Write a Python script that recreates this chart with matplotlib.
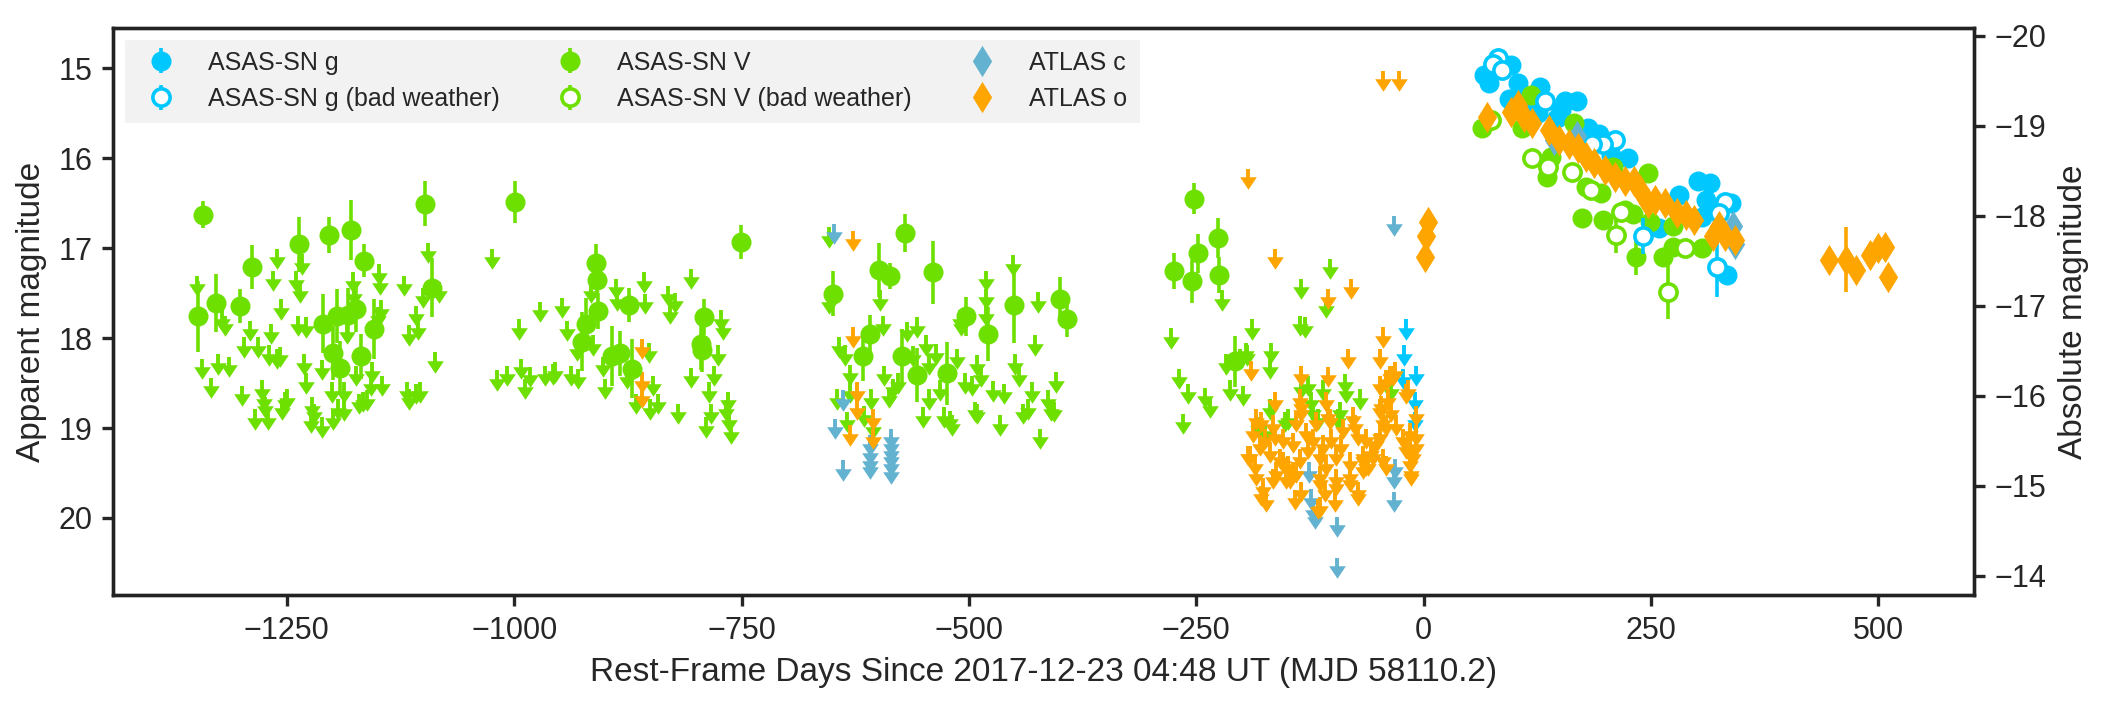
import matplotlib
matplotlib.use('Agg')
import matplotlib.pyplot as plt
import numpy as np
import seaborn as sns

sns.set_style('ticks')
plt.rcParams['font.family'] = ['Liberation Sans', 'DejaVu Sans']

DIST_MOD = 34.64

COL_G = '#00c8ff'
COL_V = '#6ee000'
COL_C = '#63b2d0'
COL_O = '#ffa500'

# ASAS-SN V detections
v_day = [-1341.8, -1347.3, -1328.3, -1301.0, -1288.0, -1236.6, -1203.8, -1179.8, -1098.0, -1164.6,
         -1090.0, -1209.7, -1195.3, -1182.7, -1173.5, -1154.5, -1168.0, -1191.1, -1198.7, -998.8,
         -910.4, -909.1, -907.9, -920.9, -925.1, -892.3, -874.2, -883.9, -870.4, -791.1,
         -795.0, -793.0, -751.1, -649.3, -598.8, -587.0, -570.1, -539.0, -609.3, -616.9,
         -573.5, -556.7, -523.8, -502.8, -479.2, -450.6, -399.7, -392.5, -274.7, -252.4,
         -248.6, -254.5, -225.9, -225.0, -207.3,
         64.5, 107.8, 117.9, 135.2, 139.8, 164.8, 174.0, 196.8, 178.5, 194.5,
         208.2, 246.9, 233.2, 262.9, 274.3, 306.2, 249.2, 221.8, 230.3, 274.3]
v_mag = [16.63, 17.76, 17.61, 17.64, 17.21, 16.96, 16.85, 16.80, 16.51, 17.14,
         17.44, 17.84, 17.76, 17.74, 17.68, 17.90, 18.20, 18.33, 18.17, 16.49,
         17.17, 17.35, 17.70, 17.84, 18.04, 18.20, 17.63, 18.17, 18.34, 17.77,
         18.07, 18.13, 16.93, 17.51, 17.24, 17.31, 16.83, 17.27, 17.95, 18.20,
         18.20, 18.41, 18.39, 17.76, 17.95, 17.63, 17.57, 17.79, 17.26, 16.45,
         17.06, 17.37, 16.89, 17.30, 18.26,
         15.67, 15.67, 15.30, 16.21, 15.99, 15.61, 16.67, 16.69, 16.32, 16.39,
         16.10, 16.17, 17.10, 17.10, 16.99, 17.00, 16.71, 16.58, 16.62, 16.76]
v_err = [0.15, 0.39, 0.32, 0.19, 0.24, 0.31, 0.20, 0.33, 0.25, 0.18,
         0.33, 0.33, 0.30, 0.30, 0.25, 0.33, 0.25, 0.30, 0.30, 0.23,
         0.22, 0.20, 0.20, 0.28, 0.33, 0.33, 0.19, 0.25, 0.33, 0.20,
         0.28, 0.25, 0.19, 0.25, 0.30, 0.14, 0.21, 0.35, 0.21, 0.28,
         0.30, 0.30, 0.35, 0.22, 0.30, 0.42, 0.25, 0.20, 0.20, 0.17,
         0.22, 0.24, 0.22, 0.20, 0.28,
         0.05, 0.05, 0.05, 0.05, 0.05, 0.05, 0.06, 0.06, 0.05, 0.05,
         0.05, 0.05, 0.20, 0.08, 0.08, 0.08, 0.08, 0.06, 0.06, 0.06]

# ASAS-SN V bad weather
vb_day = [73.6, 119.2, 136.6, 162.6, 184.0, 217.3, 211.4, 287.0, 268.8]
vb_mag = [15.58, 16.00, 16.10, 16.15, 16.36, 16.60, 16.86, 17.00, 17.49]
vb_err = [0.05, 0.05, 0.05, 0.08, 0.08, 0.06, 0.20, 0.08, 0.30]

# ASAS-SN g detections
g_day = [66.8, 71.4, 96.4, 94.2, 103.3, 105.6, 128.4, 119.2, 126.1, 155.7,
         168.5, 146.6, 151.2, 180.8, 192.2, 205.9, 224.1, 258.3, 281.1, 301.6,
         315.3, 310.8, 319.9, 338.1, 333.6, 306.2]
g_mag = [15.08, 15.17, 14.97, 15.34, 15.17, 15.28, 15.21, 15.43, 15.50, 15.37,
         15.37, 15.56, 15.47, 15.67, 15.73, 15.97, 16.00, 16.78, 16.41, 16.26,
         16.28, 16.47, 16.58, 16.50, 17.30, 16.65]
g_err = [0.05, 0.05, 0.04, 0.05, 0.04, 0.05, 0.05, 0.05, 0.05, 0.05,
         0.05, 0.05, 0.05, 0.05, 0.05, 0.05, 0.05, 0.06, 0.06, 0.08,
         0.06, 0.06, 0.06, 0.06, 0.10, 0.10]

# ASAS-SN g bad weather
gb_day = [81.8, 75.9, 86.4, 132.9, 210.4, 196.8, 185.4, 331.3, 322.2, 241.4, 324.4]
gb_mag = [14.89, 14.95, 15.02, 15.37, 15.80, 15.84, 15.84, 16.49, 17.21, 16.87, 16.61]
gb_err = [0.04, 0.04, 0.04, 0.05, 0.10, 0.05, 0.05, 0.06, 0.33, 0.20, 0.06]

# ATLAS o detections
o_day = [1.0, 2.1, 4.7,
         69.1, 96.4, 103.3, 110.1, 119.2, 137.5, 148.9, 160.3, 169.4, 178.5,
         187.6, 199.0, 210.4, 221.8, 231.0, 237.8, 246.9, 253.8, 265.2, 278.8,
         288.0, 297.1, 317.6, 324.4, 331.3, 342.7,
         445.3, 464.4, 475.8, 490.9, 500.0, 506.8, 510.5]
o_mag = [17.10, 16.87, 16.71,
         15.54, 15.49, 15.41, 15.54, 15.61, 15.69, 15.80, 15.84, 15.89, 15.99,
         16.06, 16.13, 16.21, 16.26, 16.26, 16.36, 16.50, 16.47, 16.50, 16.61,
         16.63, 16.69, 16.87, 16.76, 16.87, 16.91,
         17.13, 17.13, 17.24, 17.08, 17.00, 16.99, 17.32]
o_err = [0.03, 0.03, 0.03,
         0.02, 0.02, 0.02, 0.02, 0.02, 0.02, 0.02, 0.02, 0.02, 0.02,
         0.02, 0.02, 0.02, 0.02, 0.02, 0.02, 0.02, 0.02, 0.02, 0.02,
         0.02, 0.02, 0.03, 0.03, 0.03, 0.03,
         0.05, 0.36, 0.05, 0.05, 0.05, 0.05, 0.05]

# ATLAS c detections
c_day = [143.0, 168.5, 340.4, 342.7]
c_mag = [15.80, 15.76, 16.76, 16.95]

# upper limits
vlim_day = [-1349.0, -1343.5, -1333.4, -1325.8, -1313.2, -1318.2, -1320.8, -1299.7, -1297.2, -1290.9,
            -1282.0, -1284.6, -1271.1, -1277.4, -1275.3, -1274.5, -1269.8, -1266.9, -1260.6, -1264.8,
            -1256.8, -1260.6, -1257.6, -1255.1, -1252.2, -1250.1, -1239.5, -1235.3, -1233.2, -1237.4,
            -1229.0, -1230.7, -1229.0, -1222.3, -1223.5, -1211.8, -1220.6, -1210.9, -1200.8, -1198.7,
            -1193.2, -1186.9, -1186.9, -1177.7, -1175.6, -1183.6, -1173.5, -1170.1, -1165.9, -1161.7,
            -1157.5, -1156.6, -1149.0, -1147.8, -1146.1, -1149.9, -1144.8, -1120.8, -1117.5, -1115.4,
            -1107.8, -1103.6, -1115.4, -1107.8, -1106.1, -1100.6, -1095.2, -1086.7, -1082.5, -1024.5,
            -1018.6, -1008.0, -994.2, -992.5, -988.3, -982.8, -971.4, -966.0, -957.5, -954.6,
            -947.0, -942.0, -937.8, -929.3, -931.4, -913.3, -915.4, -888.1, -886.8, -856.9,
            -855.7, -902.4, -900.7, -875.5, -866.2, -850.2, -847.3, -841.8, -852.3, -831.3,
            -823.7, -829.2, -819.5, -805.2, -806.0,
            -773.0, -770.1, -776.4, -780.6, -786.1, -784.0, -789.0, -765.0, -764.2, -762.1,
            -767.1, -653.5, -653.5, -643.0, -635.8, -631.2, -645.1, -630.3, -634.1, -615.6,
            -608.0, -605.1, -594.6, -592.9, -588.2, -584.0, -577.7, -597.9, -568.5, -557.5,
            -561.7, -547.4, -544.0, -536.5, -513.3, -550.4, -544.0, -532.3, -527.2, -518.8,
            -520.9, -504.1, -496.5, -487.2, -491.4, -481.7, -481.7, -480.9, -508.3, -509.5,
            -493.5, -491.4, -473.3, -462.0, -466.2, -451.4, -449.3, -445.1, -430.4, -440.9,
            -434.6, -424.1, -427.5, -422.0, -413.6, -406.0, -404.3, -410.2, -278.0, -269.2,
            -265.0, -258.7, -241.0, -234.7, -222.1, -217.8, -212.8, -198.9, -194.7,
            -188.5, -167.6, -169.4, -202.4, -195.1, -134.6, -103.4, -107.1, -136.4, -130.9,
            -134.6, -127.3, -123.6, -110.8, -86.9, -85.1, -70.4, -92.4, -94.3, -116.3,
            -149.3, -152.9, -169.4, -182.3, -174.9, -121.8, -35.6]
vlim_mag = [17.47, 18.39, 18.60, 18.34, 18.37, 17.91, 17.85, 18.69, 18.15, 17.97,
            18.15, 18.95, 18.95, 18.63, 18.74, 18.82, 18.24, 18.00, 17.17, 17.41,
            17.73, 18.28, 18.26, 18.84, 18.76, 18.73, 17.42, 17.54, 17.23, 17.91,
            17.93, 18.34, 18.55, 18.82, 18.99, 19.04, 18.89, 18.40, 18.65, 18.95,
            18.84, 18.85, 18.65, 17.43, 17.58, 18.00, 18.47, 18.78, 18.76, 18.74,
            18.58, 18.43, 17.34, 17.45, 17.74, 17.82, 18.58, 17.47, 18.65, 18.73,
            18.67, 18.65, 18.02, 17.80, 17.95, 17.60, 17.10, 18.32, 17.54, 17.17,
            18.52, 18.47, 17.95, 18.39, 18.61, 18.48, 17.76, 18.47, 18.45, 18.43,
            17.71, 17.97, 18.47, 18.50, 18.19, 18.13, 17.54, 17.50, 17.63, 17.43,
            17.67, 18.37, 18.61, 18.50, 18.78, 18.84, 18.58, 18.78, 18.21, 17.58,
            17.66, 17.78, 18.89, 17.39, 18.49,
            17.85, 17.96, 18.24, 18.47, 18.65, 18.89, 19.04, 18.76, 18.98, 19.11,
            18.85, 16.93, 17.67, 18.15, 18.24, 18.46, 18.73, 18.65, 18.98, 18.92,
            18.73, 19.06, 17.91, 18.47, 18.71, 18.61, 18.55, 17.63, 17.98, 17.93,
            18.25, 18.13, 18.34, 18.23, 18.28, 18.93, 18.73, 18.63, 18.93, 19.02,
            18.97, 18.55, 18.58, 18.48, 18.35, 17.41, 17.61, 17.80, 17.91, 17.85,
            18.87, 18.89, 18.64, 18.67, 19.02, 17.24, 18.34, 18.48, 18.65, 18.89,
            18.84, 17.65, 18.13, 19.17, 18.74, 18.87, 18.54, 18.85, 18.05, 18.50,
            19.00, 18.67, 18.71, 18.82, 17.63, 18.34, 18.63, 18.69, 18.24,
            17.95, 18.21, 18.39, 18.28, 18.21, 17.50, 17.28, 17.71, 17.91, 17.93,
            18.61, 18.58, 18.76, 18.63, 18.56, 18.65, 18.73, 18.87, 18.95, 18.95,
            18.95, 18.98, 18.84, 19.04, 19.10, 18.87, 18.63]

glim_day = [-19.1, -22.1, -8.1, -10.0, -22.8, -10.0]
glim_mag = [17.95, 18.24, 18.47, 18.76, 18.50, 18.98]

clim_day = [-648.4, -638.7, -647.2, -638.7, -609.3, -609.3, -609.3, -609.3, -586.1, -586.1,
            -586.1, -586.1, -586.1, -586.1, -33.0, -31.9, -33.0, -32.7, -95.4, -95.4,
            -123.6, -121.8, -119.9, -126.2]
clim_mag = [16.89, 18.74, 19.06, 19.52, 19.24, 19.34, 19.43, 19.50, 19.17, 19.24,
            19.32, 19.39, 19.47, 19.56, 16.80, 19.50, 19.61, 19.87, 20.15, 20.60,
            19.84, 19.98, 20.06, 19.54]

olim_day = [-859.5, -859.9, -859.9, -627.0, -627.0, -623.2, -623.2, -631.2, -605.5, -605.5,
            -193.3, -163.2, -105.3, -80.3, -44.8, -47.7, -189.6, -44.9, -26.7,
            -134.6, -105.3, -83.3, -48.4, -37.4, -31.9, -163.9, -134.6, -107.1, -77.8,
            -48.4, -39.3, -19.1, -8.1, -35.6, -184.1, -165.8, -154.8, -140.1, -118.1,
            -103.4, -88.8, -72.3, -63.1, -44.8, -30.1, -15.4, -8.1, -193.3, -180.4,
            -169.4, -158.4, -149.3, -136.4, -127.3, -110.8, -96.1, -81.4, -66.8, -57.6,
            -44.8, -19.1, -11.8, -15.4, -184.1, -162.1, -151.1, -140.1, -114.4, -96.1,
            -81.4, -66.8, -41.1, -13.6, -178.6, -173.1, -141.9, -116.3, -97.9, -72.3,
            -134.6, -108.9, -187.8, -174.9, -143.8, -129.1, -101.6, -90.6, -48.4, -22.8,
            -8.1, -165.8, -107.1, -81.4, -61.3,
            -33.8, -41.1, -17.3, -136.4, -134.6, -105.3, -178.6, -163.9, -75.9, -46.6,
            -41.1, -15.4, -13.6, -154.7, -147.4, -143.7, -114.4, -114.4, -121.7, -66.8,
            -63.1, -52.1, -55.8, -176.8, -96.1, -72.3, -114.4, -191.4, -185.9]
olim_mag = [18.17, 18.54, 18.71, 16.97, 18.04, 18.65, 18.84, 19.13, 18.95, 19.17,
            16.28, 17.17, 17.61, 17.50, 18.04, 18.28, 18.41, 15.19, 15.19,
            18.47, 18.48, 18.28, 18.58, 18.47, 18.43, 18.76, 18.80, 18.76, 18.93,
            18.84, 18.73, 18.67, 18.91, 18.87, 18.95, 19.02, 19.17, 18.98, 18.98,
            18.95, 19.06, 19.13, 19.17, 18.98, 19.02, 19.10, 19.13, 19.36, 19.24,
            19.32, 19.39, 19.47, 19.39, 19.28, 19.24, 19.36, 19.43, 19.39, 19.32,
            19.39, 19.28, 19.36, 19.43, 19.58, 19.54, 19.61, 19.54, 19.65, 19.61,
            19.58, 19.50, 19.47, 19.58, 19.80, 19.87, 19.85, 19.95, 19.87, 19.80,
            19.76, 19.76, 19.10, 19.17, 19.21, 19.10, 19.17, 19.24, 19.13, 19.17,
            19.24, 19.61, 19.47, 19.65, 19.47,
            18.47, 18.52, 18.63, 18.73, 18.87, 18.91, 18.98, 19.13, 19.02, 18.80,
            19.02, 19.32, 19.54, 19.43, 19.61, 19.54, 19.36, 19.58, 19.17, 19.36,
            19.47, 19.21, 19.36, 19.72, 19.69, 19.76, 19.93, 19.36, 19.47]

# arrow head: wider than tall, pointing down
ARROW_HEAD = [(-1.0, 0.75), (1.0, 0.75), (0.0, -0.75), (-1.0, 0.75)]


def plot_limits(ax, days, mags, color, z):
    days = np.asarray(days)
    mags = np.asarray(mags)
    ax.vlines(days, mags - 0.16, mags, color=color, lw=1.4, zorder=z)
    ax.plot(days, mags, ls='none', marker=ARROW_HEAD, color=color, ms=6.0, mew=0, zorder=z)


fig, ax = plt.subplots(figsize=(10.53, 3.515), dpi=200)
fig.subplots_adjust(left=0.0537, right=0.9373, top=0.960, bottom=0.1536)

ms = 6.2
h_g = ax.errorbar(g_day, g_mag, yerr=g_err, fmt='o', color=COL_G, ms=ms, elinewidth=1.3,
                  capsize=0, label='ASAS-SN g', zorder=3)
h_gb = ax.errorbar(gb_day, gb_mag, yerr=gb_err, fmt='o', color=COL_G, mfc='white', mec=COL_G,
                   mew=1.3, ms=ms, elinewidth=1.3, capsize=0, label='ASAS-SN g (bad weather)', zorder=4)
h_v = ax.errorbar(v_day, v_mag, yerr=v_err, fmt='o', color=COL_V, ms=ms, elinewidth=1.3,
                  capsize=0, label='ASAS-SN V', zorder=3)
h_vb = ax.errorbar(vb_day, vb_mag, yerr=vb_err, fmt='o', color=COL_V, mfc='white', mec=COL_V,
                   mew=1.3, ms=ms, elinewidth=1.3, capsize=0, label='ASAS-SN V (bad weather)', zorder=4)
h_c, = ax.plot(c_day, c_mag, 'd', color=COL_C, ms=6.8, label='ATLAS c', zorder=5)
ax.errorbar(o_day, o_mag, yerr=o_err, fmt='none', ecolor=COL_O, elinewidth=1.3, zorder=6)
h_o, = ax.plot(o_day, o_mag, 'd', color=COL_O, ms=6.8, label='ATLAS o', zorder=6)

plot_limits(ax, vlim_day, vlim_mag, COL_V, 2)
plot_limits(ax, glim_day, glim_mag, COL_G, 2.5)
plot_limits(ax, clim_day, clim_mag, COL_C, 2.7)
plot_limits(ax, olim_day, olim_mag, COL_O, 2.8)

ax.set_xlim(-1441, 605)
ax.set_ylim(20.856, 14.556)
ax.set_xticks(np.arange(-1250, 501, 250))
ax.set_yticks(np.arange(15, 21, 1))
ax.set_xlabel('Rest-Frame Days Since 2017-12-23 04:48 UT (MJD 58110.2)', fontsize=12)
ax.set_ylabel('Apparent magnitude', fontsize=12)

ax2 = ax.twinx()
lo, hi = ax.get_ylim()
ax2.set_ylim(lo - DIST_MOD, hi - DIST_MOD)
ax2.set_yticks(np.arange(-20, -13, 1))
ax2.set_ylabel('Absolute magnitude', fontsize=12)

for a in (ax, ax2):
    a.tick_params(labelsize=11, length=4, width=1.2, direction='out')
    for s in a.spines.values():
        s.set_linewidth(1.2)
        s.set_color('#222222')

handles = [h_g, h_gb, h_v, h_vb, h_c, h_o]
labels = ['ASAS-SN g', 'ASAS-SN g (bad weather)', 'ASAS-SN V', 'ASAS-SN V (bad weather)',
          'ATLAS c', 'ATLAS o']
ax.legend(handles, labels, loc='upper left', ncol=3, fontsize=9, frameon=True, fancybox=False,
          facecolor='#f2f2f2', edgecolor='#f2f2f2', framealpha=1,
          columnspacing=1.8, handletextpad=0.9)

fig.savefig('out.png', dpi=200)
